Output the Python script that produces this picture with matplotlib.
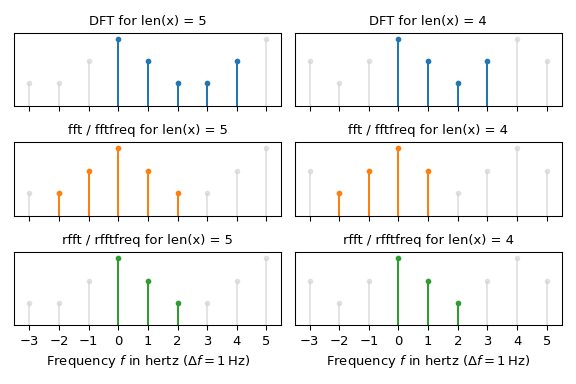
import matplotlib
matplotlib.use("Agg")
import matplotlib.pyplot as plt
import numpy as np

freqs = [-3, -2, -1, 0, 1, 2, 3, 4, 5]
gray_5 = [1, 1, 2, 3, 2, 1, 1, 2, 3]
gray_4 = [2, 1, 2, 3, 2, 1, 2, 3, 2]

dft5_f = [0, 1, 2, 3, 4]
dft5_v = [3, 2, 1, 1, 2]
dft4_f = [0, 1, 2, 3]
dft4_v = [3, 2, 1, 2]
fft5_f = [-2, -1, 0, 1, 2]
fft5_v = [1, 2, 3, 2, 1]
fft4_f = [-2, -1, 0, 1]
fft4_v = [1, 2, 3, 2]
rfft5_f = [0, 1, 2]
rfft5_v = [3, 2, 1]
rfft4_f = [0, 1, 2]
rfft4_v = [3, 2, 1]

titles = [["DFT for len(x) = 5", "DFT for len(x) = 4"],
          ["fft / fftfreq for len(x) = 5", "fft / fftfreq for len(x) = 4"],
          ["rfft / rfftfreq for len(x) = 5", "rfft / rfftfreq for len(x) = 4"]]
colored = [[(dft5_f, dft5_v), (dft4_f, dft4_v)],
           [(fft5_f, fft5_v), (fft4_f, fft4_v)],
           [(rfft5_f, rfft5_v), (rfft4_f, rfft4_v)]]
grays = [gray_5, gray_4]
colors = ["C0", "C1", "C2"]

fig, axx = plt.subplots(3, 2, sharex='all', figsize=(6, 4), dpi=96)
fig.subplots_adjust(left=0.025, right=0.975, top=0.915, bottom=0.153, wspace=0.05, hspace=0.5)

def stem(ax, x, y, color, alpha=1.0, lw=1.5):
    ax.vlines(x, 0, y, color=color, lw=lw, alpha=alpha)
    ax.plot(x, y, 'o', color=color, ms=3.2, alpha=alpha)

for r in range(3):
    for c in range(2):
        ax = axx[r, c]
        stem(ax, freqs, grays[c], 'lightgray', alpha=0.6, lw=1.5)
        fx, fv = colored[r][c]
        stem(ax, fx, fv, colors[r])
        ax.set_title(titles[r][c], fontsize=9.8)
        ax.set_yticks([])
        ax.set_ylim(0, 3.27)
        ax.set_xlim(-3.5, 5.5)
        ax.set_xticks(freqs)
        ax.tick_params(labelsize=9.8)
for c in range(2):
    axx[2, c].set_xlabel(r"Frequency $f$ in hertz ($\Delta f = 1\,$Hz)", fontsize=9.8)

fig.savefig("out.png", dpi=96)
